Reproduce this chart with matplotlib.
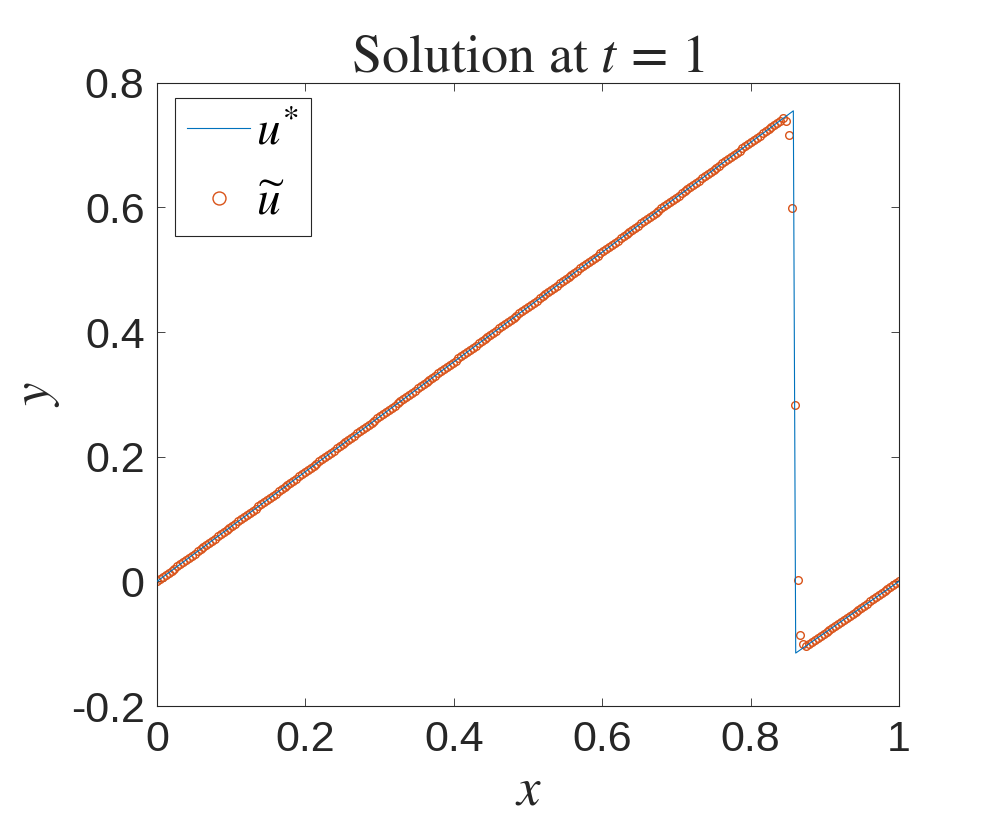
import numpy as np
import matplotlib
matplotlib.use("Agg")
import matplotlib.pyplot as plt

# exact solution u* : corner points
exact_x = [0.0, 0.8576, 0.8608, 1.0]
exact_y = [0.0, 0.755, -0.115, 0.0]

# numerical solution u~ : grid of 257 nodes (h = 1/256)
n_cells = 256
shock_nodes = [217, 218, 219, 220, 221, 222, 223]
shock_vals = [0.739, 0.717, 0.599, 0.283, 0.003, -0.086, -0.101]

xticks = [0, 0.2, 0.4, 0.6, 0.8, 1]
yticks = [-0.2, 0, 0.2, 0.4, 0.6, 0.8]
ytick_labels = ["-0.2", "0", "0.2", "0.4", "0.6", "0.8"]
xtick_labels = ["0", "0.2", "0.4", "0.6", "0.8", "1"]

BLUE = "#0072BD"
ORANGE = "#D95319"
AX_COL = "#262626"

plt.rcParams["mathtext.fontset"] = "stix"
plt.rcParams["font.family"] = ["Liberation Sans", "DejaVu Sans"]

# away from the shock the numerical values sit on the exact curve
xg = np.arange(n_cells + 1) / n_cells
ug = np.interp(xg, exact_x, exact_y)
ug[shock_nodes] = shock_vals

fig = plt.figure(figsize=(9.97, 8.32), dpi=100)
ax = fig.add_axes([0.1575, 0.1514, 0.7442, 0.7491])

ax.plot(exact_x, exact_y, color=BLUE, lw=0.8, label=r"$u^{*}$", zorder=3)
ax.plot(xg, ug, ls="none", marker="o", ms=5.5, mfc="none", mec=ORANGE,
        mew=1.0, label=r"$\widetilde{u}$", zorder=2)

ax.set_xlim(0, 1)
ax.set_ylim(-0.2, 0.8)
ax.set_xticks(xticks)
ax.set_xticklabels(xtick_labels)
ax.set_yticks(yticks)
ax.set_yticklabels(ytick_labels)
ax.tick_params(direction="in", length=6, width=0.6, colors=AX_COL,
               labelsize=31, top=True, right=True)
ax.tick_params(axis="x", pad=10)
ax.tick_params(axis="y", pad=9)
for s in ax.spines.values():
    s.set_color(AX_COL)
    s.set_linewidth(0.8)

ax.set_title(r"Solution at $t\,=\,1$", family="STIXGeneral", fontsize=39,
             color=AX_COL, pad=8)
ax.set_xlabel(r"$x$", fontsize=38, color=AX_COL, labelpad=4)
ax.set_ylabel(r"$y$", fontsize=38, color=AX_COL, labelpad=6)

leg = ax.legend(loc="upper left", bbox_to_anchor=(0.024, 0.975), fontsize=34,
                frameon=True, fancybox=False, framealpha=1, edgecolor=AX_COL,
                handlelength=1.35, handletextpad=0.12, borderpad=0.25,
                labelspacing=0.55, borderaxespad=0, markerscale=1.7)
leg.get_frame().set_linewidth(0.8)

fig.savefig("out.png", dpi=100)
